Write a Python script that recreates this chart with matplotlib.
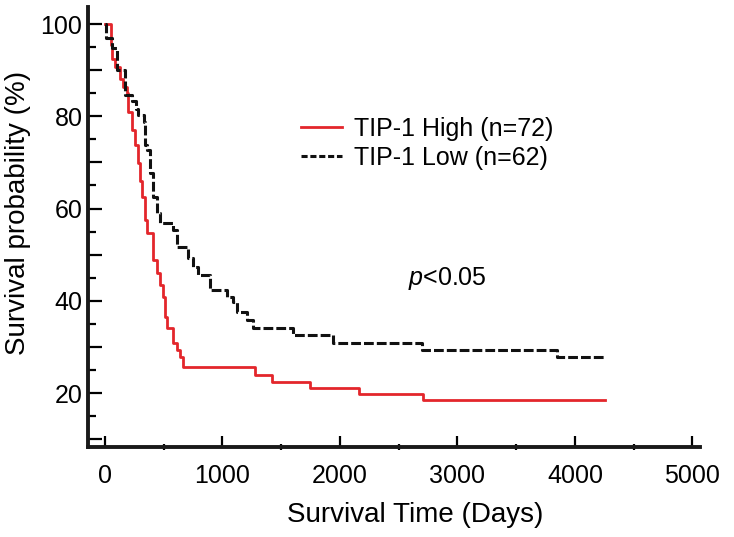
import matplotlib
matplotlib.use("Agg")
import matplotlib.pyplot as plt
from matplotlib.ticker import FixedLocator, MultipleLocator, FuncFormatter
from matplotlib.lines import Line2D

plt.rcParams['font.family'] = ['Liberation Sans', 'DejaVu Sans']
plt.rcParams['mathtext.fontset'] = 'custom'
plt.rcParams['mathtext.it'] = 'Liberation Sans:italic'
plt.rcParams['mathtext.rm'] = 'Liberation Sans'

# Kaplan-Meier steps (days, survival %)
high_t = [0, 51, 60, 85, 128, 153, 187, 196, 230, 255,
          281, 298, 315, 340, 357, 409, 443, 468, 494, 511,
          528, 579, 613, 638, 664, 1277, 1421, 1745, 2162, 2706, 4255]
high_s = [100, 95.4, 92.5, 90.7, 88.0, 86.3, 85.0, 80.9, 77.0, 73.8,
          69.9, 66.0, 62.5, 57.5, 54.7, 48.8, 46.0, 43.4, 40.8, 36.4,
          34.1, 30.8, 29.3, 27.8, 25.6, 23.9, 22.4, 21.1, 19.8, 18.5, 18.5]

low_t = [0, 8, 60, 102, 170, 230, 262, 281, 332, 340, 357,
         383, 409, 443, 468, 579, 613, 706, 749, 791, 894,
         1038, 1089, 1123, 1209, 1260, 1600, 1940, 2698, 3847, 4255]
low_s = [100, 97.0, 94.8, 90.0, 84.6, 83.4, 81.5, 80.3, 78.8, 73.8, 72.7,
         67.7, 62.5, 59.0, 56.9, 55.3, 51.7, 49.3, 47.4, 45.6, 42.3,
         40.8, 39.7, 37.5, 35.8, 34.1, 32.6, 30.8, 29.3, 27.8, 27.8]

labels = ['TIP-1 High (n=72)', 'TIP-1 Low (n=62)']
red = '#e3262b'

fig = plt.figure(figsize=(7.34, 5.37), dpi=100)
ax = fig.add_axes([88/734, 90/537, 612/734, 440/537])

ax.step(high_t, high_s, where='post', color=red, lw=2.0)
ax.step(low_t, low_s, where='post', color='#111111', lw=2.2,
        dashes=[3.2, 1.0])

ax.set_xlim(-145, 5065)
ax.set_ylim(8.3, 103.7)

# spines
for s in ['top', 'right']:
    ax.spines[s].set_visible(False)
for s in ['left', 'bottom']:
    ax.spines[s].set_linewidth(2.8)
    ax.spines[s].set_color('#1a1a1a')

# ticks
ax.xaxis.set_major_locator(MultipleLocator(1000))
ax.xaxis.set_minor_locator(MultipleLocator(500))
ax.yaxis.set_major_locator(FixedLocator(list(range(10, 101, 10))))
ax.yaxis.set_minor_locator(FixedLocator(list(range(15, 100, 10))))
ax.yaxis.set_major_formatter(FuncFormatter(lambda v, p: str(int(v)) if int(v) % 20 == 0 else ''))
ax.tick_params(axis='y', which='major', direction='in', length=10, width=1.6, labelsize=18, pad=4)
ax.tick_params(axis='y', which='minor', direction='in', length=6, width=1.6)
ax.tick_params(axis='x', which='major', direction='in', length=8, width=1.6, labelsize=18, pad=12)
ax.tick_params(axis='x', which='minor', direction='inout', length=4, width=1.6)

fig.text(18/734, 1 - 213/537, 'Survival probability (%)', rotation=90,
         ha='center', va='center', fontsize=20)
fig.text(415/734, 1 - 515/537, 'Survival Time (Days)', ha='center', va='center', fontsize=20)
fig.text(408/734, 1 - 278/537, r'$\mathit{p}$<0.05', ha='left', va='center', fontsize=18)

handles = [Line2D([], [], color=red, lw=2.0),
           Line2D([], [], color='#111111', lw=2.2, dashes=[2.0, 0.9])]
ax.legend(handles, labels, loc='upper left', bbox_to_anchor=(301/734, 1 - 117/537),
          bbox_transform=fig.transFigure, frameon=False, fontsize=18,
          handlelength=1.65, handletextpad=0.45, labelspacing=0.2,
          borderpad=0, borderaxespad=0)

fig.savefig('out.png', dpi=100)
